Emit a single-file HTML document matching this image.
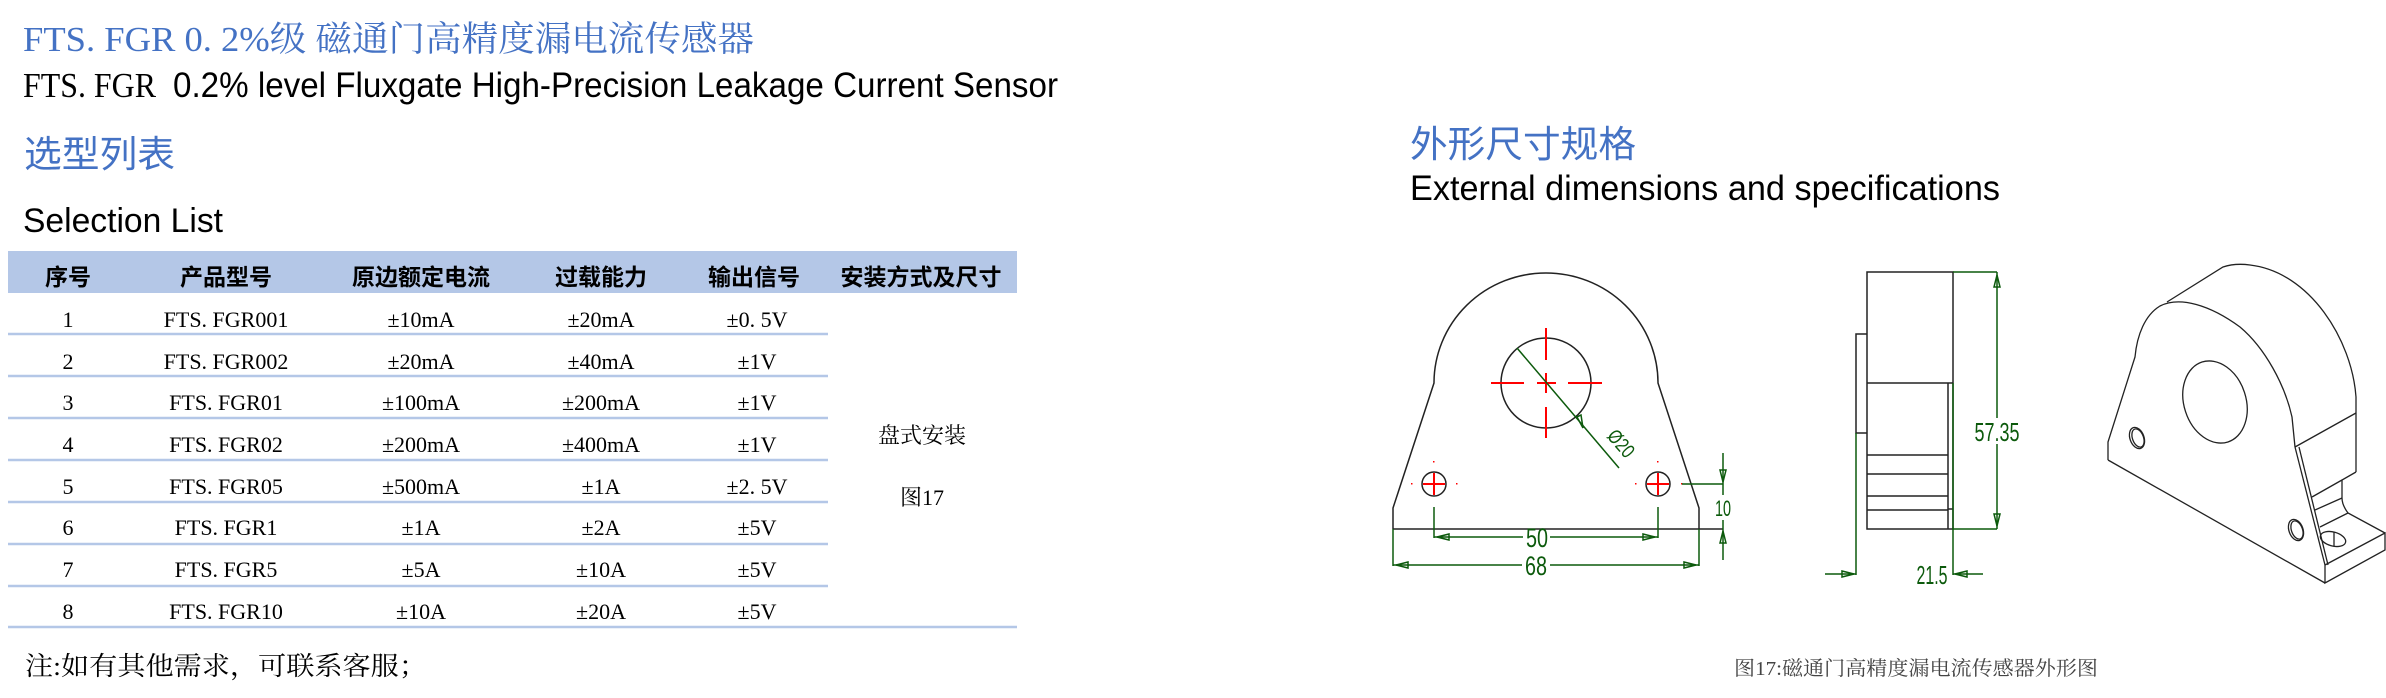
<!DOCTYPE html>
<html><head><meta charset="utf-8"><style>
html,body{margin:0;padding:0;background:#fff;}
svg{display:block;}
.cj{font-family:"Liberation Sans","Noto Sans CJK SC",sans-serif;}
.sr{font-family:"Liberation Serif","Noto Serif CJK SC","Noto Sans CJK SC",serif;}
</style></head><body>
<svg width="2386" height="698" viewBox="0 0 2386 698" xmlns="http://www.w3.org/2000/svg">
<rect width="2386" height="698" fill="#fff"/>
<text x="23" y="51" font-size="35" fill="#4472C4" class="sr" textLength="731" lengthAdjust="spacingAndGlyphs">FTS. FGR 0. 2%级 磁通门高精度漏电流传感器</text>
<text x="23" y="97" font-size="35" fill="#000" class="sr" textLength="133" lengthAdjust="spacingAndGlyphs">FTS. FGR</text>
<text x="173" y="97" font-size="35" fill="#000" class="cj" textLength="885" lengthAdjust="spacingAndGlyphs">0.2% level Fluxgate High-Precision Leakage Current Sensor</text>
<text x="24" y="167" font-size="37" fill="#4472C4" class="cj" textLength="151" lengthAdjust="spacingAndGlyphs">选型列表</text>
<text x="23" y="232" font-size="34" fill="#000" class="cj" textLength="200" lengthAdjust="spacingAndGlyphs">Selection List</text>
<text x="1410" y="157" font-size="37" fill="#4472C4" class="cj" textLength="226" lengthAdjust="spacingAndGlyphs">外形尺寸规格</text>
<text x="1410" y="200" font-size="35" fill="#000" class="cj" textLength="590" lengthAdjust="spacingAndGlyphs">External dimensions and specifications</text>

<rect x="8" y="251" width="1009" height="42" fill="#B4C7E7"/>
<g class="cj" font-size="23" font-weight="bold" fill="#000" text-anchor="middle">
<text x="68" y="285">序号</text>
<text x="226" y="285">产品型号</text>
<text x="421" y="285">原边额定电流</text>
<text x="601" y="285">过载能力</text>
<text x="754" y="285">输出信号</text>
<text x="921" y="285">安装方式及尺寸</text>
</g>
<g stroke="#B4C7E7" stroke-width="2.5">
<line x1="8" y1="334" x2="828" y2="334"/>
<line x1="8" y1="376" x2="828" y2="376"/>
<line x1="8" y1="418" x2="828" y2="418"/>
<line x1="8" y1="460" x2="828" y2="460"/>
<line x1="8" y1="502" x2="828" y2="502"/>
<line x1="8" y1="544" x2="828" y2="544"/>
<line x1="8" y1="586" x2="828" y2="586"/>
<line x1="8" y1="627" x2="1017" y2="627"/>
</g>
<g class="sr" font-size="22" fill="#000" text-anchor="middle">
<text x="68" y="327">1</text><text x="226" y="327">FTS. FGR001</text><text x="421" y="327">±10mA</text><text x="601" y="327">±20mA</text><text x="757" y="327">±0. 5V</text>
<text x="68" y="369">2</text><text x="226" y="369">FTS. FGR002</text><text x="421" y="369">±20mA</text><text x="601" y="369">±40mA</text><text x="757" y="369">±1V</text>
<text x="68" y="410">3</text><text x="226" y="410">FTS. FGR01</text><text x="421" y="410">±100mA</text><text x="601" y="410">±200mA</text><text x="757" y="410">±1V</text>
<text x="68" y="452">4</text><text x="226" y="452">FTS. FGR02</text><text x="421" y="452">±200mA</text><text x="601" y="452">±400mA</text><text x="757" y="452">±1V</text>
<text x="68" y="494">5</text><text x="226" y="494">FTS. FGR05</text><text x="421" y="494">±500mA</text><text x="601" y="494">±1A</text><text x="757" y="494">±2. 5V</text>
<text x="68" y="535">6</text><text x="226" y="535">FTS. FGR1</text><text x="421" y="535">±1A</text><text x="601" y="535">±2A</text><text x="757" y="535">±5V</text>
<text x="68" y="577">7</text><text x="226" y="577">FTS. FGR5</text><text x="421" y="577">±5A</text><text x="601" y="577">±10A</text><text x="757" y="577">±5V</text>
<text x="68" y="619">8</text><text x="226" y="619">FTS. FGR10</text><text x="421" y="619">±10A</text><text x="601" y="619">±20A</text><text x="757" y="619">±5V</text>
<text x="922" y="443">盘式安装</text>
<text x="922" y="505">图17</text>
</g>
<text x="25" y="675" font-size="26" class="sr" fill="#000" textLength="402" lengthAdjust="spacingAndGlyphs">注:如有其他需求，可联系客服；</text>

<g fill="none" stroke="#222" stroke-width="1.5">
<path d="M1393,529 L1393,508 L1434,383 A112,110 0 0 1 1658,383 L1699,508 L1699,529"/>
<line x1="1393" y1="529" x2="1723" y2="529"/>
<circle cx="1546" cy="383" r="45"/>
<circle cx="1434" cy="484" r="12"/>
<circle cx="1658" cy="484" r="12"/>
</g>
<g stroke="#f00" stroke-width="2">
<line x1="1491" y1="383" x2="1524" y2="383"/><line x1="1537" y1="383" x2="1556" y2="383"/><line x1="1568" y1="383" x2="1602" y2="383"/>
<line x1="1546" y1="328" x2="1546" y2="360"/><line x1="1546" y1="373" x2="1546" y2="393"/><line x1="1546" y1="407" x2="1546" y2="438"/>
<line x1="1423" y1="484" x2="1445" y2="484"/><line x1="1434" y1="473" x2="1434" y2="495"/>
<line x1="1647" y1="484" x2="1669" y2="484"/><line x1="1658" y1="473" x2="1658" y2="495"/>
</g>
<g fill="#f00"><rect x="1433" y="461" width="1.5" height="1.5"/><rect x="1411" y="483" width="1.5" height="1.5"/><rect x="1456" y="483" width="1.5" height="1.5"/>
<rect x="1657" y="461" width="1.5" height="1.5"/><rect x="1635" y="483" width="1.5" height="1.5"/><rect x="1681" y="483" width="1.5" height="1.5"/></g>
<g stroke="#0c5a0c" stroke-width="1.5" fill="none">
<line x1="1517" y1="348" x2="1619" y2="468"/>
<line x1="1434" y1="507" x2="1434" y2="538"/><line x1="1658" y1="507" x2="1658" y2="538"/>
<line x1="1434" y1="537" x2="1523" y2="537"/><line x1="1550" y1="537" x2="1658" y2="537"/>
<line x1="1393" y1="529" x2="1393" y2="566"/><line x1="1699" y1="529" x2="1699" y2="566"/>
<line x1="1393" y1="565" x2="1522" y2="565"/><line x1="1550" y1="565" x2="1699" y2="565"/>
<line x1="1723" y1="453" x2="1723" y2="495"/><line x1="1723" y1="520" x2="1723" y2="560"/>
<line x1="1682" y1="484" x2="1723" y2="484"/>
<path d="M1437,537 l12,-3 l0,6 z M1655,537 l-12,-3 l0,6 z M1396,565 l12,-3 l0,6 z M1696,565 l-12,-3 l0,6 z M1723,482 l-3,-12 l6,0 z M1723,531 l-3,12 l6,0 z M1583,428 l-6,-11 l4,-2 z"/>
</g>
<g fill="#0c5a0c" class="cj" font-size="27" text-anchor="middle">
<text x="1537" y="547" textLength="22" lengthAdjust="spacingAndGlyphs">50</text>
<text x="1536" y="575" textLength="22" lengthAdjust="spacingAndGlyphs">68</text>
<text x="1723" y="516" font-size="22" textLength="16" lengthAdjust="spacingAndGlyphs">10</text>
<text x="0" y="0" font-size="20" transform="translate(1616,448) rotate(49)" textLength="30" lengthAdjust="spacingAndGlyphs">Ø20</text>
</g>

<g fill="none" stroke="#222" stroke-width="1.5">
<rect x="1867" y="272" width="86" height="257"/>
<line x1="1867" y1="383" x2="1953" y2="383"/>
<line x1="1948" y1="383" x2="1948" y2="529"/>
<line x1="1867" y1="455" x2="1948" y2="455"/><line x1="1867" y1="474" x2="1948" y2="474"/>
<line x1="1867" y1="496" x2="1948" y2="496"/><line x1="1867" y1="510" x2="1948" y2="510"/>
<line x1="1948" y1="509" x2="1953" y2="509"/>
<path d="M1867,334 L1856,334 L1856,433 L1867,433"/>
</g>
<g stroke="#0c5a0c" stroke-width="1.5" fill="none">
<line x1="1953" y1="272" x2="1997" y2="272"/>
<line x1="1997" y1="272" x2="1997" y2="418"/><line x1="1997" y1="444" x2="1997" y2="529"/>
<line x1="1953" y1="529" x2="1997" y2="529"/>
<line x1="1953" y1="383" x2="1953" y2="575"/>
<line x1="1856" y1="433" x2="1856" y2="575"/>
<line x1="1825" y1="574" x2="1856" y2="574"/><line x1="1953" y1="574" x2="1983" y2="574"/>
<path d="M1997,275 l-3,12 l6,0 z M1997,526 l-3,-12 l6,0 z M1854,574 l-12,-3 l0,6 z M1955,574 l12,-3 l0,6 z"/>
</g>
<g fill="#0c5a0c" class="cj" font-size="26" text-anchor="middle">
<text x="1997" y="441" textLength="45" lengthAdjust="spacingAndGlyphs">57.35</text>
<text x="1932" y="584" textLength="31" lengthAdjust="spacingAndGlyphs">21.5</text>
</g>

<g fill="none" stroke="#222" stroke-width="1.3">
<path d="M2167,302 L2223,267 Q2235,263 2250,265 C2310,272 2352,340 2356,397 L2356,472"/>
<path d="M2108,460 L2108,442 L2135,357 C2137,335 2145,315 2160,306 C2180,296 2210,305 2240,327 C2265,348 2285,385 2292,417 L2295,447"/>
<line x1="2295" y1="447" x2="2356" y2="413"/>
<line x1="2108" y1="460" x2="2325" y2="583"/>
<line x1="2295" y1="447" x2="2325" y2="565"/>
<line x1="2299" y1="447" x2="2328" y2="565"/>
<path d="M2325,565 L2385,533 L2385,550 L2325,583 Z"/>
<path d="M2385,533 L2348,513 Q2342,505 2342,498 L2342,480 L2356,472"/>
<line x1="2312" y1="497" x2="2342" y2="480"/>
<line x1="2315" y1="510" x2="2342" y2="498"/>
<line x1="2320" y1="527" x2="2348" y2="513"/>
<ellipse cx="2215" cy="402" rx="31" ry="42" transform="rotate(-18 2215 402)"/>
<ellipse cx="2137" cy="438" rx="7" ry="11" transform="rotate(-20 2137 438)"/>
<ellipse cx="2138" cy="438" rx="5.5" ry="9.5" transform="rotate(-20 2138 438)"/>
<ellipse cx="2296" cy="530" rx="7" ry="11" transform="rotate(-20 2296 530)"/>
<ellipse cx="2297" cy="530" rx="5.5" ry="9.5" transform="rotate(-20 2297 530)"/>
<ellipse cx="2333" cy="539" rx="13" ry="7" transform="rotate(15 2333 539)"/>
<line x1="2334" y1="532" x2="2334" y2="546"/>
</g>
<text x="1734" y="675" font-size="20" class="sr" fill="#444" textLength="364" lengthAdjust="spacingAndGlyphs">图17:磁通门高精度漏电流传感器外形图</text>
</svg>
</body></html>
